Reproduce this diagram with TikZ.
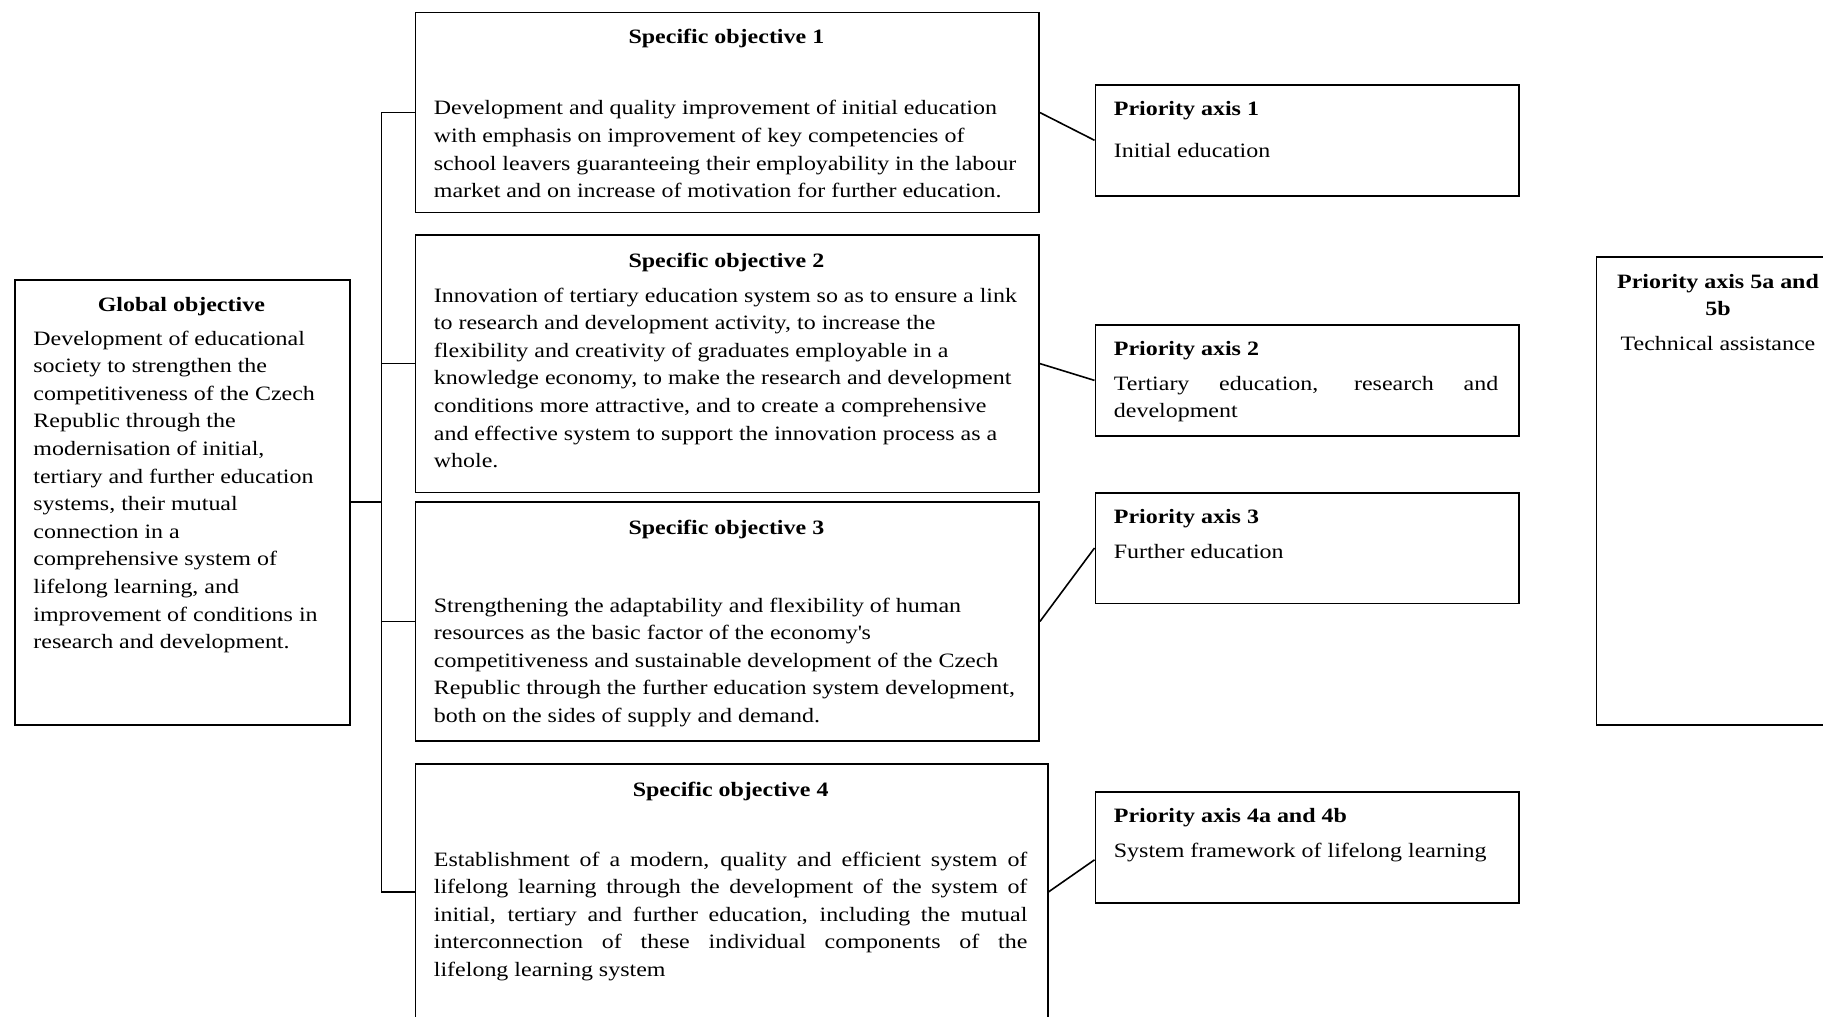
\documentclass[tikz,border=0pt]{standalone}
\usepackage{fontspec}
\setmainfont{Liberation Serif}[FakeStretch=1.175]
\newcommand\bodyfont{\fontsize{10.2pt}{13.8pt}\selectfont}
\usetikzlibrary{calc}
\tikzset{
  boxst/.style={draw, line width=0.9pt, inner sep=0pt, anchor=north west},
  txt/.style={inner sep=0pt, anchor=base west, font=\bodyfont},
  ttl/.style={inner sep=0pt, anchor=base, font=\bodyfont\bfseries},
  ttlw/.style={inner sep=0pt, anchor=base west, font=\bodyfont\bfseries},
  conn/.style={line width=0.8pt},
}
\begin{document}
\begin{tikzpicture}[x=0.5pt,y=-0.5pt]
\clip (0,0) rectangle (1823,1016);
\fill[white] (0,0) rectangle (1823,1016);

% boxes
\node[boxst, minimum width=167.35pt, minimum height=222.55pt] (glob) at (14,278.7) {};
\node[boxst, minimum width=311.8pt, minimum height=100pt] (so1) at (414.6,11.7) {};
\node[boxst, minimum width=311.8pt, minimum height=128.75pt] (so2) at (414.6,234) {};
\node[boxst, minimum width=311.8pt, minimum height=119.3pt] (so3) at (414.6,501.2) {};
\node[boxst, minimum width=316.05pt, minimum height=128pt] (so4) at (414.6,763) {};
\node[boxst, minimum width=211.75pt, minimum height=55.6pt] (pa1) at (1094.5,83.8) {};
\node[boxst, minimum width=211.75pt, minimum height=55.5pt] (pa2) at (1094.5,324) {};
\node[boxst, minimum width=211.75pt, minimum height=55.4pt] (pa3) at (1094.5,491.7) {};
\node[boxst, minimum width=211.75pt, minimum height=55.65pt] (pa4) at (1094.5,790.8) {};
\node[boxst, minimum width=122.5pt, minimum height=234pt] (pa5) at (1595.6,256) {};

% global objective
\node[ttl] (globt) at (181.35,311) {Global objective};
\node[txt] (globb) at (33,345) {\parbox[t]{170pt}{\raggedright
Development of educational\\
society to strengthen the\\
competitiveness of the Czech\\
Republic through the\\
modernisation of initial,\\
tertiary and further education\\
systems, their mutual\\
connection in a\\
comprehensive system of\\
lifelong learning, and\\
improvement of conditions in\\
research and development.}};

% specific objectives
\node[ttl] (so1t) at (726.4,43.5) {Specific objective 1};
\node[txt] (so1b) at (433.5,115) {\parbox[t]{310pt}{\raggedright
Development and quality improvement of initial education\\
with emphasis on improvement of key competencies of\\
school leavers guaranteeing their employability in the labour\\
market and on increase of motivation for further education.}};

\node[ttl] (so2t) at (726.4,267) {Specific objective 2};
\node[txt] (so2b) at (433.5,302) {\parbox[t]{310pt}{\raggedright
Innovation of tertiary education system so as to ensure a link\\
to research and development activity, to increase the\\
flexibility and creativity of graduates employable in a\\
knowledge economy, to make the research and development\\
conditions more attractive, and to create a comprehensive\\
and effective system to support the innovation process as a\\
whole.}};

\node[ttl] (so3t) at (726.4,534) {Specific objective 3};
\node[txt] (so3b) at (433.5,612) {\parbox[t]{310pt}{\raggedright
Strengthening the adaptability and flexibility of human\\
resources as the basic factor of the economy\textquotesingle s\\
competitiveness and sustainable development of the Czech\\
Republic through the further education system development,\\
both on the sides of supply and demand.}};

\node[ttl] (so4t) at (730.65,796.5) {Specific objective 4};
\node[txt] (so4b) at (433.5,866) {\parbox[t]{310pt}{\raggedright
\makebox[296.75pt][s]{Establishment of a modern, quality and efficient system of}\\
\makebox[296.75pt][s]{lifelong learning through the development of the system of}\\
\makebox[296.75pt][s]{initial, tertiary and further education, including the mutual}\\
\makebox[296.75pt][s]{interconnection of these individual components of the}\\
lifelong learning system}};

% priority axes
\node[ttlw] (pa1t) at (1113.5,116) {Priority axis 1};
\node[txt] (pa1b) at (1113.5,158) {Initial education};

\node[ttlw] (pa2t) at (1113.5,355) {Priority axis 2};
\node[txt] (pa2b) at (1113.5,390) {\parbox[t]{200pt}{\raggedright
\makebox[192.2pt][s]{Tertiary education, research and}\\
development}};

\node[ttlw] (pa3t) at (1113.5,523.5) {Priority axis 3};
\node[txt] (pa3b) at (1113.5,558) {Further education};

\node[ttlw] (pa4t) at (1113.5,822) {Priority axis 4a and 4b};
\node[txt] (pa4b) at (1113.5,857.5) {System framework of lifelong learning};

\node[ttl] (pa5t) at (1718,288) {Priority axis 5a and};
\node[ttl] (pa5u) at (1718,315.6) {5b};
\node[txt, anchor=base] (pa5b) at (1718,350.6) {Technical assistance};

% connectors
\coordinate (tr) at (381.6,0);
\draw[conn] (so1.west) -- (so1.west -| tr) -- (so4.west -| tr) -- (so4.west);
\draw[conn] (so2.west) -- (so2.west -| tr);
\draw[conn] (so3.west) -- (so3.west -| tr);
\draw[line width=1.2pt] (glob.east) -- (glob.east -| tr);

\draw[conn] (so1.east) -- (pa1.west);
\draw[conn] (so2.east) -- (pa2.west);
\draw[conn] (so3.east) -- (pa3.west);
\draw[conn] (so4.east) -- ($(pa4.west)+(0,12.5)$);
\end{tikzpicture}
\end{document}
